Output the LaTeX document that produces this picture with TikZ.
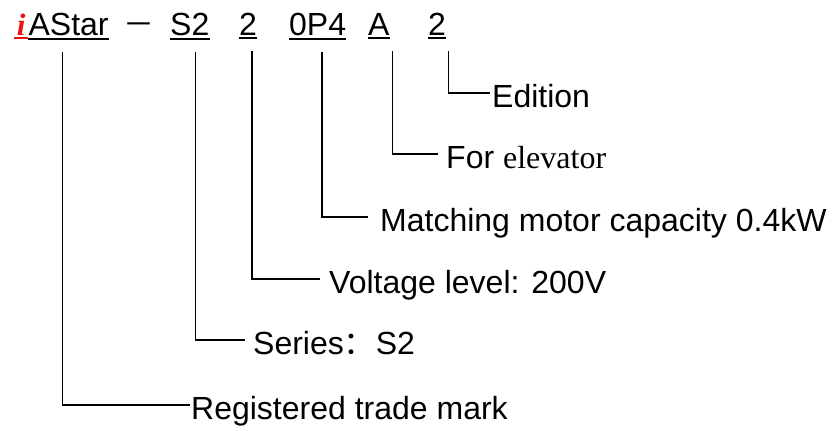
\documentclass[tikz,border=0pt]{standalone}
\usepackage{fontspec}
\setmainfont{Liberation Sans}
\newfontfamily\timesfont{Liberation Serif}
\newfontfamily\cjkfont{Noto Sans CJK SC}
\usepackage{xcolor}
\usepackage{tikz}
\usetikzlibrary{positioning}
\definecolor{logored}{HTML}{EE1111}
\definecolor{ink}{HTML}{000000}
\tikzset{
  code/.style={font=\fontsize{32}{38}\selectfont, inner sep=0pt, anchor=base west},
  logo/.style={code, text=logored, font=\fontsize{31}{36}\selectfont\timesfont\bfseries\itshape, minimum width=14pt},
  desc/.style={font=\fontsize{32}{38}\selectfont, inner ysep=0pt, inner xsep=#1, text height=30pt, text depth=0pt, anchor=west},
  desc/.default=3pt,
  uline/.style={draw=ink, line width=2pt},
  leader/.style={draw=ink, line width=1.5pt}
}

\begin{document}
\begin{tikzpicture}[x=1pt, y=-1pt]
  \useasboundingbox (0,0) rectangle (831,427);

  \node[logo] (logo) at (14,35.5) {i};
  \node[code] (brand) at (logo.base east) {AStar};
  \node[code, anchor=base, font=\fontsize{31}{36}\selectfont\cjkfont] (dash) at (138.5,35.5) {－};
  \node[code] (series) at (170,35.5) {S2};
  \node[code] (volt) at (239,35.5) {2};
  \node[code] (motor) at (289,35.5) {0P4};
  \node[code] (app) at (368,35.5) {A};
  \node[code] (edition) at (428,35.5) {2};

  \draw[uline, draw=logored] ([yshift=-2.5pt]logo.south west) -- ([yshift=-2.5pt]logo.south east);
  \foreach \n in {brand,series,volt,motor,app,edition}
    \draw[uline] ([yshift=-2.5pt]\n.south west) -- ([yshift=-2.5pt]\n.south east);

  \node[desc=2pt] (editionl) at (490,93) {Edition};
  \node[desc=8pt] (appl) at (438,154) {For {\timesfont elevator}};
  \node[desc=12pt] (motorl) at (368,217) {Matching motor capacity 0.4kW};
  \node[desc=9pt] (voltl) at (320,279) {Voltage level: 200V};
  \node[desc=8pt] (seriesl) at (245,340) {Series{\cjkfont ：}S2};
  \node[desc=1pt] (brandl) at (190,405) {Registered trade mark};

  \draw[leader] ([xshift=-6pt,yshift=-15.5pt]brand.south) |- (brandl.west);
  \draw[leader] ([xshift=5.5pt,yshift=-15.5pt]series.south) |- (seriesl.west);
  \draw[leader] ([xshift=4pt,yshift=-15.5pt]volt.south) |- (voltl.west);
  \draw[leader] ([xshift=4.5pt,yshift=-15.5pt]motor.south) |- (motorl.west);
  \draw[leader] ([xshift=13.5pt,yshift=-15.5pt]app.south) |- (appl.west);
  \draw[leader] ([xshift=11.5pt,yshift=-15.5pt]edition.south) |- (editionl.west);
\end{tikzpicture}
\end{document}
